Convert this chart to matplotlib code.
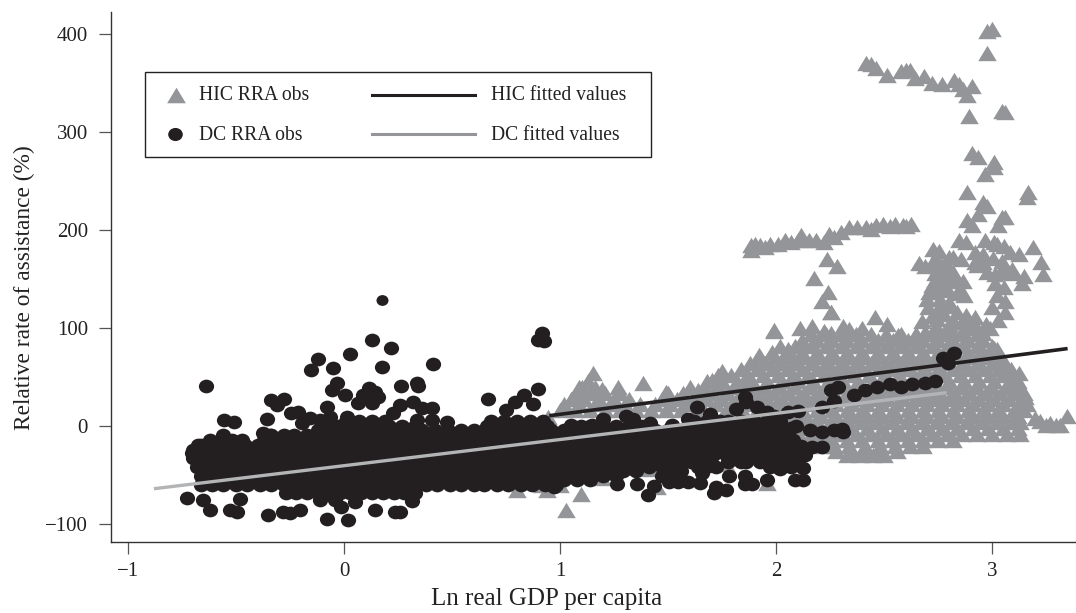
import numpy as np
import matplotlib
matplotlib.use("Agg")
import matplotlib.pyplot as plt
from matplotlib.lines import Line2D
from matplotlib.patches import Rectangle
from matplotlib.path import Path
from matplotlib.transforms import Affine2D

plt.rcParams['font.family'] = ['Liberation Serif', 'DejaVu Serif']

# ---- HIC observations, read off the picture ----
# upper ridge and the scatter above 100 %
hic_top_x = [2.975, 3.0, 2.975, 2.415, 2.438, 2.462, 2.515, 2.577, 2.6, 2.622, 2.645, 2.684, 2.722, 2.768,
             2.822, 2.845, 2.868, 2.906, 2.883, 2.894, 3.044, 3.062, 2.909, 2.934, 3.01, 2.967, 3.01, 2.886,
             3.167, 3.164, 2.96, 2.975, 2.937, 2.883, 2.906, 3.044, 3.03, 3.06]
hic_top_y = [403.5, 405, 380.6, 370.4, 369.7, 365.4, 358.6, 362, 363.7, 363.7, 355, 357, 350, 348.5,
             353.5, 348.5, 343.4, 346.8, 338, 316, 321.4, 320.4, 279, 274, 269, 257, 264, 238.6,
             239, 233.5, 228.5, 225, 216.6, 210, 205, 213, 205, 213]
# second ridge near 190-205 %
hic_ridge_x = [1.882, 1.902, 1.925, 1.882, 1.971, 2.04, 2.07, 2.114, 2.155, 2.186, 2.247, 2.3, 2.339, 2.377,
               2.415, 2.462, 2.495, 2.553, 2.587, 2.627, 1.95, 2.01, 2.1, 2.22, 2.27, 2.44, 2.53, 2.6]
hic_ridge_y = [184.5, 186, 184.5, 179.5, 186, 189.6, 188, 194.7, 189.6, 189.6, 196.4, 198, 203, 203,
               203, 204.8, 206.5, 206.5, 205.5, 206.5, 183, 186, 190, 188, 193, 201, 204, 204]
# scattered points between 70 % and 190 %
hic_mid_x = [2.237, 2.282, 2.177, 2.242, 2.214, 2.253, 2.848, 2.88, 2.967, 3.007, 3.021, 3.054, 3.082, 3.126,
             3.189, 3.229, 3.237, 3.098, 3.052, 3.044, 3.006, 2.975, 3.013, 3.021, 2.921, 2.921, 2.929,
             2.727, 2.819, 2.661, 2.722, 2.768, 2.737, 2.799, 2.83, 2.722, 2.783, 2.837, 2.707, 2.756,
             2.689, 2.745, 2.8, 2.856, 2.737, 2.785, 2.832, 2.864, 2.872, 2.729, 2.785, 2.959, 2.959,
             3.046, 3.015, 3.094, 3.149, 3.141, 3.057, 3.062, 3.0, 3.062, 2.705, 2.753, 2.745, 2.674,
             2.824, 2.88, 2.92, 2.991, 1.992, 1.92, 2.11, 2.166, 2.118, 2.055, 2.22, 2.253, 2.309, 2.34,
             2.4, 2.46, 2.515, 2.563, 2.253, 3.022, 2.935, 3.011,
             2.7, 2.76, 2.8, 2.72, 2.78, 2.84, 2.74, 2.8, 2.86, 2.69, 2.75, 2.81, 2.87, 2.93, 2.97, 2.65, 2.9, 2.96,
             2.77, 2.82, 2.85, 2.74, 2.8, 3.03, 2.79, 2.75]
hic_mid_y = [170, 163, 151, 137, 128, 116, 189.6, 188, 189.6, 188, 186, 184, 178, 175.5,
             182.5, 167, 154.6, 156, 162.5, 157.5, 171, 157.5, 146, 134, 178, 167.6, 164,
             181, 172.7, 166, 166, 164, 156, 161, 151, 144, 144, 135.5, 137, 179,
             163, 163, 161.6, 170, 149, 151, 148, 148, 134, 137, 139, 175.5, 167,
             168.5, 154.6, 160, 153, 146, 142, 128, 121, 116, 121, 121, 109, 107,
             106, 113, 111, 100, 97, 72, 100, 102, 83, 79, 97, 95, 102, 99,
             100, 111, 104, 93, 116, 79, 72, 80,
             130, 130, 127, 112, 114, 116, 102, 104, 106, 96, 96, 98, 100, 100, 104, 94, 104, 95,
             155, 157, 140, 170, 172, 108, 122, 142]
# lower left and right fringes of the cloud
hic_edge_x = [1.027, 1.098, 1.0, 0.939, 0.8, 0.915, 1.066, 1.194, 1.449, 1.417, 1.768, 1.959, 1.32, 0.945,
              1.154, 1.09, 1.146, 1.194, 1.27, 1.385, 1.489, 1.64, 1.704, 1.752, 1.847, 1.927, 1.99,
              3.059, 3.123, 3.099, 3.155, 3.139, 3.2, 3.25, 3.298, 3.346, 3.314, 3.27, 3.22]
hic_edge_y = [-86, -69, -60, -65, -65, -60, -44, -53, -62, -44, -39, -58, -41, 9.5,
              54, 40, 36, 38, 40, 44, 35, 36.5, 47, 56, 45, 70, 98,
              56, 54, 43.6, 29.5, 17, 8, 1, 1, 10, 1, 3, 5]
# body of the cloud, by level
hic_levels = [94, 88, 82, 76, 70, 64, 58, 52, 46, 40, 34, 28, 22, 16, 10, 4, -2, -8, -14, -20, -25, -30]
hic_level_x = [
    [2.16, 2.23, 2.3, 2.37, 2.44, 2.51, 2.58, 2.65, 2.72, 2.79, 2.86, 2.93],
    [2.12, 2.19, 2.26, 2.33, 2.4, 2.47, 2.54, 2.61, 2.68, 2.75, 2.82, 2.89, 2.96],
    [2.02, 2.09, 2.16, 2.23, 2.3, 2.37, 2.44, 2.51, 2.58, 2.65, 2.72, 2.79, 2.86, 2.93, 3.0],
    [1.98, 2.05, 2.12, 2.19, 2.26, 2.33, 2.4, 2.47, 2.54, 2.61, 2.68, 2.75, 2.82, 2.89, 2.96, 3.02],
    [1.92, 1.99, 2.06, 2.13, 2.2, 2.27, 2.34, 2.41, 2.48, 2.55, 2.62, 2.69, 2.76, 2.83, 2.9, 2.97, 3.04],
    [1.88, 1.95, 2.02, 2.09, 2.16, 2.23, 2.3, 2.37, 2.44, 2.51, 2.58, 2.65, 2.72, 2.79, 2.86, 2.93, 3.0, 3.06],
    [1.84, 1.91, 1.98, 2.05, 2.12, 2.19, 2.26, 2.33, 2.4, 2.47, 2.54, 2.61, 2.68, 2.75, 2.82, 2.89, 2.96, 3.03, 3.09],
    [1.73, 1.79, 1.87, 1.94, 2.01, 2.08, 2.15, 2.22, 2.29, 2.36, 2.43, 2.5, 2.57, 2.64, 2.71, 2.78, 2.85, 2.92, 2.99, 3.05, 3.1],
    [1.13, 1.68, 1.75, 1.82, 1.89, 1.96, 2.03, 2.1, 2.17, 2.24, 2.31, 2.38, 2.45, 2.52, 2.59, 2.66, 2.73, 2.8, 2.87, 2.94, 3.01, 3.08, 3.12],
    [1.1, 1.16, 1.6, 1.67, 1.74, 1.81, 1.88, 1.95, 2.02, 2.09, 2.16, 2.23, 2.3, 2.37, 2.44, 2.51, 2.58, 2.65, 2.72, 2.79, 2.86, 2.93, 3.0, 3.07, 3.13],
    [1.08, 1.14, 1.21, 1.28, 1.5, 1.57, 1.64, 1.71, 1.78, 1.85, 1.92, 1.99, 2.06, 2.13, 2.2, 2.27, 2.34, 2.41, 2.48, 2.55, 2.62, 2.69, 2.76, 2.83, 2.9, 2.97, 3.04, 3.11, 3.15],
    [1.05, 1.11, 1.18, 1.25, 1.32, 1.47, 1.54, 1.61, 1.68, 1.75, 1.82, 1.89, 1.96, 2.03, 2.1, 2.17, 2.24, 2.31, 2.38, 2.45, 2.52, 2.59, 2.66, 2.73, 2.8, 2.87, 2.94, 3.01, 3.08, 3.15],
    [1.02, 1.09, 1.16, 1.23, 1.3, 1.37, 1.44, 1.51, 1.58, 1.65, 1.72, 1.79, 1.86, 1.93, 2.0, 2.07, 2.14, 2.21, 2.28, 2.35, 2.42, 2.49, 2.56, 2.63, 2.7, 2.77, 2.84, 2.91, 2.98, 3.05, 3.12, 3.16],
    [1.0, 1.07, 1.14, 1.21, 1.28, 1.35, 1.42, 1.49, 1.56, 1.63, 1.7, 1.77, 1.84, 1.91, 1.98, 2.05, 2.12, 2.19, 2.26, 2.33, 2.4, 2.47, 2.54, 2.61, 2.68, 2.75, 2.82, 2.89, 2.96, 3.03, 3.1, 3.15],
    [1.86, 1.93, 2.0, 2.07, 2.14, 2.21, 2.28, 2.35, 2.42, 2.49, 2.56, 2.63, 2.7, 2.77, 2.84, 2.91, 2.98, 3.05, 3.12],
    [1.9, 1.97, 2.04, 2.11, 2.18, 2.25, 2.32, 2.39, 2.46, 2.53, 2.6, 2.67, 2.74, 2.81, 2.88, 2.95, 3.02, 3.09, 3.13],
    [2.0, 2.07, 2.14, 2.21, 2.28, 2.35, 2.42, 2.49, 2.56, 2.63, 2.7, 2.77, 2.84, 2.91, 2.98, 3.05, 3.12],
    [2.02, 2.09, 2.16, 2.23, 2.3, 2.37, 2.44, 2.51, 2.58, 2.65, 2.72, 2.79, 2.86, 2.93, 3.0, 3.07, 3.13],
    [2.12, 2.19, 2.26, 2.33, 2.4, 2.47, 2.54, 2.61, 2.68, 2.75, 2.82],
    [2.2, 2.27, 2.34, 2.41, 2.48, 2.55, 2.62, 2.68],
    [2.28, 2.35, 2.42, 2.49, 2.56],
    [2.33, 2.39, 2.45, 2.5],
]

# ---- DC observations ----
dc_small_x = [0.177]
dc_small_y = [128.6]
# points outside the solid body
dc_out_x = [0.13, 0.216, 0.03, -0.119, -0.153, -0.052, 0.177, 0.41, -0.64, 0.917, 0.9, 0.926, 0.667, 0.9,
            0.833, 0.79, 0.875, 0.75, 0.264, 0.336, 0.343, -0.034, -0.057, 0.005, 0.116, 0.144, 0.158,
            0.088, 0.065, 0.13, -0.08, 0.012, -0.34, -0.28, -0.31, -0.358, -0.247, -0.213, -0.196, -0.157,
            -0.111, -0.065, -0.556, -0.508, -0.558, -0.375, -0.343, -0.676, -0.705, -0.676, 0.259, 0.227,
            0.32, 0.36, 0.406, 0.337, 0.406, 0.475,
            -0.727, -0.62, -0.652, -0.528, -0.494, -0.353, -0.282, -0.25, -0.204, -0.08, 0.02, 0.145,
            0.236, 0.259, -0.015, 0.051, 0.313, -0.042, -0.481, -0.111]
dc_out_y = [88, 80, 73.5, 68, 57, 59, 60, 63, 41, 95, 88, 87, 27.5, 38,
            32, 25, 22.5, 16, 41, 44, 41, 44, 37, 32, 39, 35, 30,
            32, 23, 23, 19, 9.5, 26.5, 28, 21, 7, 13, 14.6, 3.4, 8,
            6, 9.5, 6, 4.4, -9, -7, -9, -19, -28, -24.5, 21, 13,
            25, 18, 18, 6, 6, 4.4,
            -73, -86, -75, -86, -88, -91, -88, -89, -86, -95, -96, -86,
            -87.4, -87.4, -83, -78, -77, -75, -74, -75]
# the high income end of the DC cloud
dc_right_x = [2.361, 2.413, 2.469, 2.53, 2.58, 2.63, 2.69, 2.737, 2.772, 2.825, 2.796, 2.286, 2.254, 2.27, 2.214,
              2.158, 2.214, 2.27, 2.307, 2.31, 2.055, 2.10, 1.816, 1.863, 1.855, 1.911, 1.959, 1.99, 1.592,
              1.632, 1.696, 1.776, 1.52, 1.305, 1.337, 1.417, 1.2, 1.146, 1.05, 1.098, 0.974, 1.266, 1.358,
              1.433, 1.406, 1.505, 1.545, 1.592, 1.648, 1.712, 1.768, 1.72, 1.784, 1.855, 1.855, 1.887,
              1.959, 2.087, 2.126, 2.126, 2.02, 1.863, 1.927, 2.214, 2.166, 2.118, 2.02, 2.07, 2.094, 1.99,
              2.134, 2.055, 1.808, 1.736, 1.688, 1.656, 1.608, 1.529, 1.505, 1.337, 1.29, 1.242, 1.114,
              1.066, 1.003, 0.955]
dc_right_y = [32, 36.5, 39.4, 42.9, 40, 42.9, 44.3, 46, 69, 74.5, 64.7, 40, 37, 26, 19,
              -4, -6, -4, -3, -6, 14, 15, 17, 24, 29.5, 19, 14, 10, 7,
              19, 12, 5, 1.4, 10, 7, 3, 6.7, 1.4, 1.4, 0, -62, -59, -59,
              -61, -70, -57, -57, -57, -58, -68, -65, -62, -51, -51, -59, -59,
              -55, -55, -55, -43, -44, -37, -37, -21, -21, -20, -20, -2, 0, -27,
              -30, -34, -28, -25, -41, -48, -37, -41, -48, -44, -43, -41, -41,
              -39, -44, -41]
# solid body, by level
dc_levels = [-68, -60, -55, -51, -46, -42, -37, -33, -28, -24, -19, -14, -9, -4, 0, 5]
dc_level_x = [
    [-0.27, -0.22, -0.17, -0.12, -0.07, -0.02, 0.03, 0.08, 0.13, 0.18, 0.23, 0.28, 0.33],
    [-0.66, -0.61, -0.56, -0.5, -0.45, -0.39, -0.34, -0.28, -0.23, -0.17, -0.12, -0.06, -0.01, 0.05, 0.1, 0.16, 0.21, 0.27, 0.32, 0.38, 0.43, 0.49, 0.54, 0.6, 0.65, 0.71, 0.76, 0.82, 0.87, 0.93, 0.98],
    [-0.63, -0.58, -0.53, -0.47, -0.42, -0.36, -0.31, -0.25, -0.2, -0.14, -0.09, -0.03, 0.02, 0.08, 0.13, 0.19, 0.24, 0.3, 0.35, 0.41, 0.46, 0.52, 0.57, 0.63, 0.68, 0.74, 0.79, 0.85, 0.9, 0.96, 1.02, 1.08, 1.14],
    [-0.66, -0.6, -0.54, -0.48, -0.42, -0.36, -0.3, -0.24, -0.18, -0.12, -0.06, 0.0, 0.06, 0.12, 0.18, 0.24, 0.3, 0.36, 0.42, 0.48, 0.54, 0.6, 0.66, 0.72, 0.78, 0.84, 0.9, 0.96, 1.02, 1.08, 1.14, 1.2, 1.26, 1.47],
    [-0.63, -0.57, -0.51, -0.45, -0.39, -0.33, -0.27, -0.21, -0.15, -0.09, -0.03, 0.03, 0.09, 0.15, 0.21, 0.27, 0.33, 0.39, 0.45, 0.51, 0.57, 0.63, 0.69, 0.75, 0.81, 0.87, 0.93, 0.99, 1.05, 1.11, 1.17, 1.23, 1.29, 1.35, 1.56],
    [-0.68, -0.63, -0.57, -0.51, -0.45, -0.39, -0.33, -0.27, -0.21, -0.15, -0.09, -0.03, 0.03, 0.09, 0.15, 0.21, 0.27, 0.33, 0.39, 0.45, 0.51, 0.57, 0.63, 0.69, 0.75, 0.81, 0.87, 0.93, 0.99, 1.05, 1.11, 1.17, 1.23, 1.29, 1.35, 1.41, 1.47, 1.53, 1.64, 1.72, 1.97, 2.07],
    [-0.66, -0.6, -0.54, -0.48, -0.42, -0.36, -0.3, -0.24, -0.18, -0.12, -0.06, 0.0, 0.06, 0.12, 0.18, 0.24, 0.3, 0.36, 0.42, 0.48, 0.54, 0.6, 0.66, 0.72, 0.78, 0.84, 0.9, 0.96, 1.02, 1.08, 1.14, 1.2, 1.26, 1.32, 1.38, 1.44, 1.5, 1.56, 1.62, 1.78, 1.84, 2.0],
    [-0.7, -0.64, -0.58, -0.52, -0.46, -0.4, -0.34, -0.28, -0.22, -0.16, -0.1, -0.04, 0.02, 0.08, 0.14, 0.2, 0.26, 0.32, 0.38, 0.44, 0.5, 0.56, 0.62, 0.68, 0.74, 0.8, 0.86, 0.92, 0.98, 1.04, 1.1, 1.16, 1.22, 1.28, 1.34, 1.4, 1.46, 1.52, 1.58, 1.64, 1.7, 1.78, 1.84, 1.9, 1.97, 2.04, 2.1],
    [-0.68, -0.62, -0.56, -0.5, -0.44, -0.38, -0.32, -0.26, -0.2, -0.14, -0.08, -0.02, 0.04, 0.1, 0.16, 0.22, 0.28, 0.34, 0.4, 0.46, 0.52, 0.58, 0.64, 0.7, 0.76, 0.82, 0.88, 0.94, 1.0, 1.06, 1.12, 1.18, 1.24, 1.3, 1.36, 1.42, 1.48, 1.54, 1.6, 1.66, 1.72, 1.8, 1.88, 1.94, 2.0, 2.06],
    [-0.7, -0.65, -0.6, -0.55, -0.49, -0.43, -0.37, -0.31, -0.25, -0.19, -0.13, -0.07, -0.01, 0.05, 0.11, 0.17, 0.23, 0.29, 0.35, 0.41, 0.47, 0.53, 0.59, 0.65, 0.71, 0.77, 0.83, 0.89, 0.95, 1.01, 1.07, 1.13, 1.19, 1.25, 1.31, 1.37, 1.43, 1.49, 1.55, 1.61, 1.67, 1.73, 1.79, 1.85, 1.91, 1.97, 2.03, 2.09],
    [-0.66, -0.6, -0.54, -0.46, -0.4, -0.34, -0.28, -0.22, -0.16, -0.1, -0.04, 0.02, 0.08, 0.14, 0.2, 0.26, 0.32, 0.38, 0.44, 0.5, 0.56, 0.62, 0.68, 0.74, 0.8, 0.86, 0.92, 0.98, 1.04, 1.1, 1.16, 1.22, 1.28, 1.34, 1.4, 1.46, 1.52, 1.58, 1.64, 1.7, 1.76, 1.82, 1.88, 1.94, 2.0, 2.06],
    [-0.62, -0.57, -0.52, -0.47, -0.37, -0.31, -0.26, -0.2, -0.14, -0.08, -0.02, 0.04, 0.1, 0.16, 0.22, 0.28, 0.34, 0.4, 0.46, 0.52, 0.58, 0.64, 0.7, 0.76, 0.82, 0.88, 0.94, 1.0, 1.06, 1.12, 1.18, 1.24, 1.3, 1.36, 1.42, 1.48, 1.54, 1.6, 1.66, 1.72, 1.78, 1.84, 1.9, 1.96, 2.02, 2.08],
    [-0.34, -0.28, -0.23, -0.17, -0.11, -0.05, 0.01, 0.07, 0.13, 0.19, 0.25, 0.31, 0.37, 0.43, 0.49, 0.55, 0.61, 0.67, 0.73, 0.79, 0.85, 0.91, 0.97, 1.03, 1.09, 1.15, 1.21, 1.27, 1.33, 1.39, 1.45, 1.51, 1.57, 1.63, 1.69, 1.75, 1.81, 1.87, 1.93, 1.99, 2.05],
    [-0.12, -0.06, 0.0, 0.06, 0.12, 0.18, 0.24, 0.3, 0.36, 0.42, 0.48, 0.54, 0.6, 0.66, 0.72, 0.78, 0.84, 0.9, 0.96, 1.02, 1.08, 1.14, 1.2, 1.26, 1.32, 1.38, 1.44, 1.5, 1.56, 1.62, 1.68, 1.74, 1.8, 1.86, 1.92, 1.98, 2.04],
    [-0.09, -0.03, 0.03, 0.09, 0.15, 0.21, 0.27, 0.33, 0.66, 0.7, 0.76, 0.82, 0.88, 0.94, 1.14, 1.2, 1.26, 1.32, 1.38, 1.6, 1.66, 1.72, 1.82, 1.88, 1.94, 2.0],
    [0.01, 0.07, 0.13, 0.19, 0.68, 0.74, 0.8, 0.86, 0.92, 1.62, 1.68, 1.74, 1.84, 1.9, 1.96, 2.02],
]

# ---- fitted lines ----
hic_fit_x = [0.95, 3.35]
hic_fit_y = [10.5, 79]
dc_fit_x = [-0.88, 2.79]
dc_fit_y = [-64, 34]

xticks = [-1, 0, 1, 2, 3]
yticks = [-100, 0, 100, 200, 300, 400]

GREY = '#939598'
BLACK = '#231f20'
W, H = 1076, 613


def px(x, y):
    return x / W, 1 - y / H


# triangles and dots in the print are a bit squat
tri = Path([(-1, -0.83), (1, -0.83), (0, 0.83), (-1, -0.83)], closed=True)
dot = Path.unit_circle().transformed(Affine2D().scale(1, 0.9))

hx = hic_top_x + hic_ridge_x + hic_mid_x + hic_edge_x
hy = hic_top_y + hic_ridge_y + hic_mid_y + hic_edge_y
for lev, xs in zip(hic_levels, hic_level_x):
    hx = hx + xs
    hy = hy + [lev] * len(xs)

dx = dc_out_x + dc_right_x
dy = dc_out_y + dc_right_y
for lev, xs in zip(dc_levels, dc_level_x):
    dx = dx + xs
    dy = dy + [lev] * len(xs)

fig = plt.figure(figsize=(W / 100, H / 100), dpi=100)
ax = fig.add_axes([111 / W, 1 - 542 / H, (W - 111) / W, 530 / H])
ax.set_xlim((111 - 344) / 216, (W - 344) / 216)
ax.set_ylim((426 - 542) / 0.98, (426 - 12) / 0.98)

ax.scatter(hx, hy, s=178, marker=tri, color=GREY, linewidths=0, zorder=2)
ax.scatter(dx, dy, s=120, marker=dot, color=BLACK, linewidths=0, zorder=3)
ax.scatter(dc_small_x, dc_small_y, s=75, marker=dot, color=BLACK, linewidths=0, zorder=3)
ax.plot(hic_fit_x, hic_fit_y, color=BLACK, lw=2.6, solid_capstyle='butt', zorder=4)
ax.plot(dc_fit_x, dc_fit_y, color='#b3b4b6', lw=2.4, solid_capstyle='butt', zorder=5)

for s in ['top', 'right']:
    ax.spines[s].set_visible(False)
for s in ['left', 'bottom']:
    ax.spines[s].set_color('#333333')
    ax.spines[s].set_linewidth(1.0)
ax.set_xticks(xticks)
ax.set_yticks(yticks)
ax.set_xticklabels(['\u2212' + str(-t) if t < 0 else str(t) for t in xticks])
ax.set_yticklabels(['\u2212' + str(-t) if t < 0 else str(t) for t in yticks])
ax.tick_params(axis='both', length=8.5, width=0.9, color='#555555', labelsize=15, labelcolor='#222222', pad=8)
ax.tick_params(axis='x', pad=6)
fig.text(*px(547, 599), 'Ln real GDP per capita', fontsize=18, color='#222222', ha='center', va='center')
fig.text(*px(24, 288), 'Relative rate of assistance (%)', fontsize=16.8, color='#222222',
         rotation=90, ha='center', va='center')

# legend box, laid out by hand to follow the two column print layout
fig.add_artist(Rectangle(px(145, 157), 506 / W, 85 / H, transform=fig.transFigure, fc='white',
                         ec='#222222', lw=1.0, zorder=6))
fig.add_artist(Line2D([px(176, 0)[0]], [px(0, 95)[1]], marker=tri, ms=13.5, color=GREY, mew=0, ls='none',
                      transform=fig.transFigure, zorder=7))
fig.add_artist(Line2D([px(175, 0)[0]], [px(0, 134)[1]], marker=dot, ms=10.5, color=BLACK, mew=0, ls='none',
                      transform=fig.transFigure, zorder=7))
fig.add_artist(Line2D([px(372, 0)[0], px(475, 0)[0]], [px(0, 94.5)[1]] * 2, color=BLACK, lw=2.2,
                      transform=fig.transFigure, zorder=7))
fig.add_artist(Line2D([px(372, 0)[0], px(475, 0)[0]], [px(0, 134)[1]] * 2, color=GREY, lw=2.2,
                      transform=fig.transFigure, zorder=7))
for tx, ty, lab in [(199, 96, 'HIC RRA obs'), (199, 135, 'DC RRA obs'),
                    (491, 96, 'HIC fitted values'), (491, 135, 'DC fitted values')]:
    t = fig.text(*px(tx, ty), lab, fontsize=14.1, color='#222222', ha='left', va='center')
    t.set_zorder(8)

fig.savefig('out.png', dpi=100)
